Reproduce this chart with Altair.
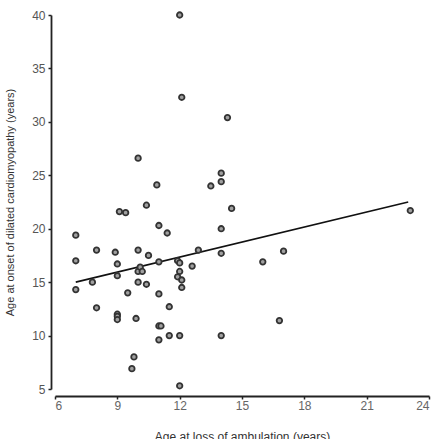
import altair as alt
import pandas as pd

loss_ambulation = [7.0, 7.0, 7.0, 7.8, 8.0, 8.0, 8.9, 9.0, 9.0, 9.0, 9.0, 9.0,
                   9.1, 9.4, 9.5, 9.9, 9.8, 9.7, 10.0, 10.0, 10.1, 10.2, 10.0, 10.0,
                   10.4, 10.5, 10.4, 10.9, 11.0, 11.4, 11.0, 11.0, 11.5, 11.0, 11.1, 11.0,
                   11.5, 11.9, 12.0, 12.0, 11.9, 12.1, 12.1, 12.0, 12.0, 12.0, 12.1, 12.6,
                   12.9, 13.5, 14.0, 14.0, 14.0, 14.0, 14.0, 14.3, 14.5, 16.0, 16.8, 17.0, 23.1]
onset_dcm = [19.4, 17.0, 14.3, 15.0, 18.0, 12.6, 17.8, 16.7, 15.6, 12.0, 11.8, 11.5,
             21.6, 21.5, 14.0, 11.6, 8.0, 6.9, 18.0, 16.0, 16.4, 16.0, 15.0, 26.6,
             22.2, 17.5, 14.8, 24.1, 20.3, 19.6, 16.9, 13.9, 12.7, 10.9, 10.9, 9.6,
             10.0, 17.0, 16.8, 16.0, 15.5, 15.2, 14.5, 10.0, 5.3, 40.0, 32.3, 16.5,
             18.0, 24.0, 25.2, 24.4, 20.0, 17.7, 10.0, 30.4, 21.9, 16.9, 11.4, 17.9, 21.7]

fit_x = [7.0, 23.0]
fit_y = [15.0, 22.5]

x_ticks = [6, 9, 12, 15, 18, 21, 24]
y_ticks = [5, 10, 15, 20, 25, 30, 35, 40]

pts = pd.DataFrame({"x": loss_ambulation, "y": onset_dcm})
fit = pd.DataFrame({"x": fit_x, "y": fit_y})

xscale = alt.Scale(domain=[6, 24], nice=False, zero=False)
yscale = alt.Scale(domain=[5, 40], nice=False, zero=False)

xaxis = alt.Axis(values=x_ticks, title="Age at loss of ambulation (years)", grid=False,
                 offset=7, tickSize=3, labelPadding=1, titlePadding=20,
                 labelFontSize=12, titleFontSize=12, labelColor="#666666", titleColor="#333333",
                 labelFont="Liberation Sans", titleFont="Liberation Sans", titleFontWeight="normal",
                 domainColor="#222222", domainWidth=1.8, tickColor="#222222", tickWidth=1.5)
yaxis = alt.Axis(values=y_ticks, title="Age at onset of dilated cardiomyopathy (years)", grid=False,
                 offset=4, tickSize=3, labelPadding=3, titlePadding=16,
                 labelFontSize=12, titleFontSize=11, labelColor="#555555", titleColor="#333333",
                 labelFont="Liberation Sans", titleFont="Liberation Sans", titleFontWeight="normal",
                 domainColor="#222222", domainWidth=1.8, tickColor="#222222", tickWidth=1.5)

points = alt.Chart(pts).mark_point(shape="circle", filled=True, fill="#a0a0a0", stroke="#333333",
                                   strokeWidth=1.8, size=30, opacity=1).encode(
    x=alt.X("x:Q", scale=xscale, axis=xaxis),
    y=alt.Y("y:Q", scale=yscale, axis=yaxis),
)

line = alt.Chart(fit).mark_line(color="#111111", strokeWidth=1.6).encode(
    x=alt.X("x:Q", scale=xscale),
    y=alt.Y("y:Q", scale=yscale),
)

chart = alt.layer(line, points).properties(
    width=374, height=374, autosize="none",
    padding={"left": 55, "top": 15, "right": 6, "bottom": 50},
    background="white",
).configure_view(stroke=None)

chart.save("out.html", embed_options={"renderer": "svg", "actions": False})
